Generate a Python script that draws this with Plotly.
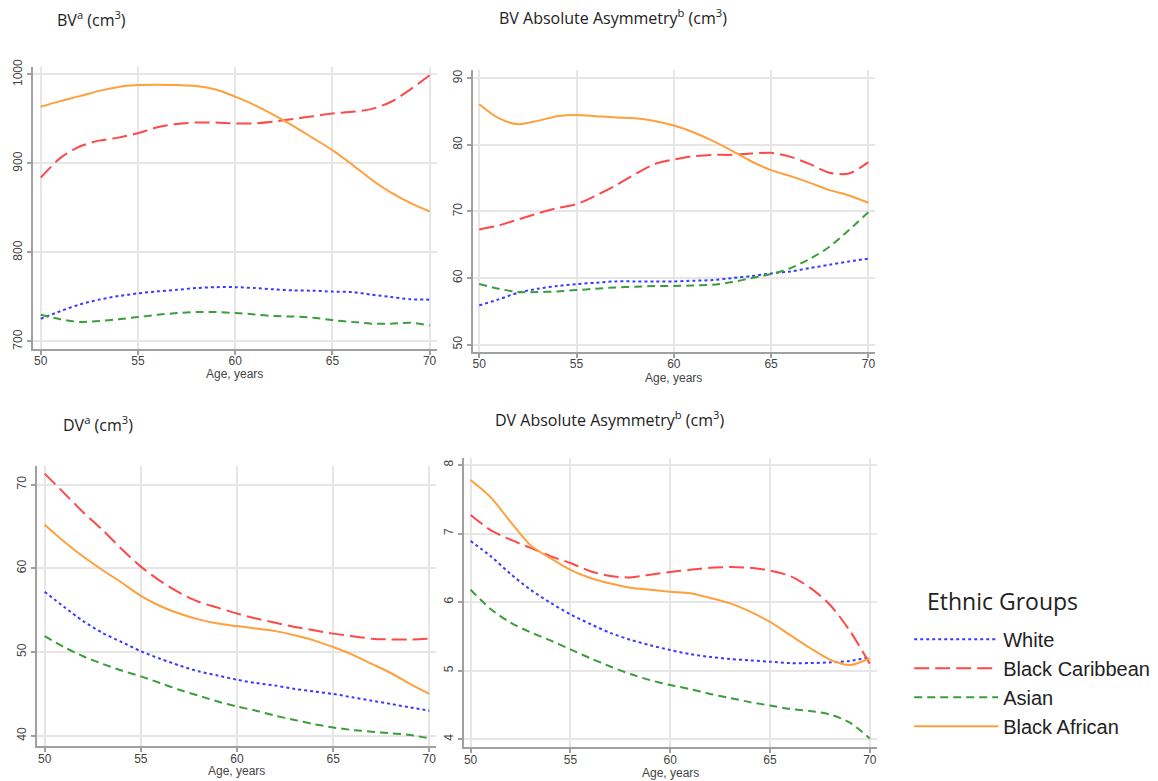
import plotly.graph_objects as go

ages = list(range(50, 71))
groups = ["White", "Black Caribbean", "Asian", "Black African"]

bv_white = [725.5, 734, 741.5, 747, 751, 754, 756.3, 758, 760, 761, 761, 760, 758.5, 757.4, 757, 756, 755.5, 752.6, 750, 747.4, 747]
bv_caribbean = [884, 906, 919, 925.6, 929, 934, 940.7, 944.4, 946, 946, 945, 945, 947, 950, 953, 956, 958, 961, 969, 983, 999]
bv_asian = [730, 725, 722, 723, 725, 727.4, 730, 731.9, 733, 733, 732, 730.4, 728.5, 728, 726.7, 724, 722, 720, 720, 721, 718]
bv_african = [963.7, 970, 975.6, 981.5, 986, 988, 988.5, 988, 987, 983, 975, 965.6, 954.4, 942, 928.5, 915, 899, 882, 867.4, 855.6, 846]

bva_white = [55.9, 56.8, 57.8, 58.4, 58.8, 59.1, 59.3, 59.5, 59.5, 59.5, 59.5, 59.6, 59.7, 60.0, 60.3, 60.7, 61.0, 61.5, 62.0, 62.5, 62.9]
bva_caribbean = [67.3, 67.9, 68.8, 69.7, 70.5, 71.1, 72.4, 73.9, 75.6, 77.1, 77.8, 78.3, 78.5, 78.5, 78.7, 78.8, 78.2, 77.1, 75.8, 75.7, 77.4]
bva_asian = [59.1, 58.4, 57.9, 57.9, 58.0, 58.2, 58.4, 58.6, 58.7, 58.8, 58.8, 58.9, 59.0, 59.4, 60.0, 60.6, 61.5, 62.9, 64.7, 67.2, 69.9]
bva_african = [86.1, 84.0, 83.1, 83.6, 84.3, 84.5, 84.3, 84.1, 84.0, 83.6, 82.9, 81.9, 80.6, 79.1, 77.5, 76.2, 75.3, 74.3, 73.2, 72.4, 71.3]

dv_white = [57.2, 55.4, 53.7, 52.3, 51.2, 50.1, 49.2, 48.4, 47.7, 47.2, 46.7, 46.3, 46.0, 45.6, 45.3, 45.0, 44.6, 44.2, 43.8, 43.4, 43.0]
dv_caribbean = [71.3, 69.0, 66.7, 64.6, 62.3, 60.2, 58.5, 57.1, 56.0, 55.3, 54.6, 54.0, 53.5, 53.0, 52.6, 52.2, 51.9, 51.6, 51.5, 51.5, 51.6]
dv_asian = [51.9, 50.6, 49.5, 48.6, 47.8, 47.1, 46.3, 45.5, 44.8, 44.1, 43.5, 43.0, 42.4, 41.9, 41.4, 41.0, 40.7, 40.5, 40.3, 40.1, 39.7]
dv_african = [65.2, 63.2, 61.4, 59.8, 58.3, 56.7, 55.5, 54.6, 53.9, 53.4, 53.1, 52.8, 52.5, 52.0, 51.4, 50.6, 49.7, 48.6, 47.5, 46.2, 45.0]

dva_white = [6.89, 6.67, 6.41, 6.18, 5.99, 5.82, 5.68, 5.55, 5.45, 5.37, 5.30, 5.24, 5.20, 5.17, 5.15, 5.13, 5.11, 5.11, 5.12, 5.14, 5.20]
dva_caribbean = [7.27, 7.05, 6.91, 6.79, 6.67, 6.57, 6.45, 6.38, 6.36, 6.40, 6.44, 6.47, 6.50, 6.51, 6.50, 6.46, 6.38, 6.21, 5.96, 5.58, 5.10]
dva_asian = [6.18, 5.90, 5.70, 5.56, 5.44, 5.31, 5.18, 5.06, 4.95, 4.86, 4.79, 4.73, 4.66, 4.60, 4.54, 4.49, 4.44, 4.41, 4.36, 4.24, 4.01]
dva_african = [7.78, 7.53, 7.17, 6.83, 6.64, 6.47, 6.35, 6.27, 6.21, 6.18, 6.15, 6.13, 6.06, 5.98, 5.86, 5.71, 5.52, 5.33, 5.16, 5.08, 5.18]

panel_titles = ["BV<sup>a</sup> (cm<sup>3</sup>)", "BV Absolute Asymmetry<sup>b</sup> (cm<sup>3</sup>)",
                "DV<sup>a</sup> (cm<sup>3</sup>)", "DV Absolute Asymmetry<sup>b</sup> (cm<sup>3</sup>)"]
x_title = "Age, years"
legend_title = "Ethnic Groups"
x_ticks = [50, 55, 60, 65, 70]
y_ticks = [[700, 800, 900, 1000], [50, 60, 70, 80, 90], [40, 50, 60, 70], [4, 5, 6, 7, 8]]
panel_data = [
    [bv_white, bv_caribbean, bv_asian, bv_african],
    [bva_white, bva_caribbean, bva_asian, bva_african],
    [dv_white, dv_caribbean, dv_asian, dv_african],
    [dva_white, dva_caribbean, dva_asian, dva_african],
]

colors = ["#3a3aff", "#ff4848", "#3a9e3a", "#ffa03c"]
dashes = ["3px,3px", "15px,6px", "8px,5px", "solid"]

W, H = 1158, 781
# pixel boxes (left, right, top, bottom) and axis ranges
boxes = [(33, 437, 60, 345), (473, 876, 63, 348), (37, 436, 463, 747), (464, 878, 455, 748)]
x_ranges = [[49.6, 70.36], [49.66, 70.35], [49.6, 70.33], [49.65, 70.37]]
y_ranges = [[691.5, 1008], [48.9, 91.2], [38.74, 72.25], [3.88, 8.105]]
title_pos = [(55, 11), (497, 9), (61, 421), (493, 416)]
xtitle_y = [370, 374, 772, 774]

fig = go.Figure()
for p in range(4):
    xa = "x" if p == 0 else f"x{p+1}"
    ya = "y" if p == 0 else f"y{p+1}"
    for g in range(4):
        fig.add_trace(go.Scatter(
            x=ages, y=panel_data[p][g], mode="lines", name=groups[g],
            line=dict(color=colors[g], width=2, dash=dashes[g], shape="spline", smoothing=0.8),
            xaxis=xa, yaxis=ya, showlegend=(p == 0), legendgroup=groups[g]))

axis_common = dict(showline=True, linecolor="#a0a0a0", linewidth=2, ticks="outside",
                   ticklen=4, tickcolor="#a0a0a0", tickwidth=1.5, showgrid=True,
                   gridcolor="#e6e6e6", gridwidth=1.5, zeroline=False,
                   tickfont=dict(family="Liberation Sans, Arial", size=12, color="#444"))
layout = {}
for p in range(4):
    l, r, t, b = boxes[p]
    xk = "xaxis" if p == 0 else f"xaxis{p+1}"
    yk = "yaxis" if p == 0 else f"yaxis{p+1}"
    ya = "y" if p == 0 else f"y{p+1}"
    xa = "x" if p == 0 else f"x{p+1}"
    layout[xk] = dict(domain=[l / W, r / W], range=x_ranges[p], anchor=ya, tickvals=x_ticks,
                      ticklabelstandoff=-4, **axis_common)
    layout[yk] = dict(domain=[1 - b / H, 1 - t / H], range=y_ranges[p], anchor=xa,
                      tickvals=y_ticks[p], tickangle=-90, **axis_common)
    fig.add_annotation(text=panel_titles[p], x=title_pos[p][0] / W, y=1 - title_pos[p][1] / H,
                       xref="paper", yref="paper", xanchor="left", yanchor="middle",
                       showarrow=False, font=dict(family="Open Sans", size=16, color="#222"))
    fig.add_annotation(text=x_title, x=(l + r) / 2 / W, y=1 - xtitle_y[p] / H,
                       xref="paper", yref="paper", xanchor="center", yanchor="middle",
                       showarrow=False,
                       font=dict(family="Liberation Sans, Arial", size=12, color="#444"))

fig.add_annotation(text=legend_title, x=926 / W, y=1 - 600 / H, xref="paper", yref="paper",
                   xanchor="left", yanchor="middle", showarrow=False,
                   font=dict(family="Open Sans", size=23, color="#222"))

fig.update_layout(
    width=W, height=H, margin=dict(l=0, r=0, t=0, b=0),
    plot_bgcolor="white", paper_bgcolor="white",
    legend=dict(x=910 / W, y=1 - 619 / H, xanchor="left", yanchor="top",
                font=dict(family="Liberation Sans, Arial", size=20, color="#222"),
                itemwidth=84, tracegroupgap=0, bgcolor="rgba(0,0,0,0)"),
    **layout)

fig.write_html("out.html", config={"displayModeBar": False},
               post_script="document.body.style.margin='0';document.body.style.overflow='hidden';")
